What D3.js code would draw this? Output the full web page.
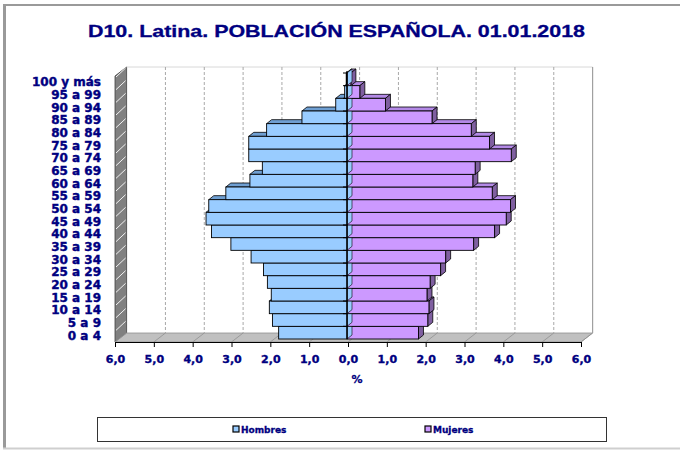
<!DOCTYPE html>
<html><head><meta charset="utf-8">
<script src="https://cdn.jsdelivr.net/npm/d3@7"></script>
<style>body{margin:0;background:#fff}svg{display:block}</style>
</head><body>
<svg id="c" width="680" height="450"></svg>
<script>
const categories = ["0 a 4","5 a 9","10 a 14","15 a 19","20 a 24","25 a 29","30 a 34","35 a 39","40 a 44","45 a 49","50 a 54","55 a 59","60 a 64","65 a 69","70 a 74","75 a 79","80 a 84","85 a 89","90 a 94","95 a 99","100 y más"];
const hombres = [1.76,1.92,2.00,1.95,2.05,2.15,2.47,2.99,3.49,3.63,3.56,3.12,2.50,2.18,2.53,2.53,2.07,1.16,0.29,0.06,0.02];
const mujeres = [1.84,2.08,2.11,2.06,2.14,2.41,2.54,3.26,3.80,4.10,4.21,3.74,3.24,3.30,4.23,3.67,3.20,2.19,0.99,0.33,0.10];
const xTicks = [-6,-5,-4,-3,-2,-1,0,1,2,3,4,5,6];
const seriesNames = ["Hombres","Mujeres"];
const title = "D10. Latina. POBLACIÓN ESPAÑOLA. 01.01.2018";
const xLabel = "%";

const navy = "#000080";
const colH = "#99ccff", colHTop = "#6f9fd2", colHSide = "#99ccff";
const colM = "#cc99ff", colMTop = "#b389e6", colMSide = "#7f5fa0";

const svg = d3.select("#c");
// outer frame
svg.append("line").attr("x1",3).attr("x2",680).attr("y1",5).attr("y2",5).attr("stroke","#9a9a9a").attr("stroke-width",2);
svg.append("line").attr("x1",4.5).attr("x2",4.5).attr("y1",4).attr("y2",449).attr("stroke","#9a9a9a").attr("stroke-width",3);
svg.append("line").attr("x1",3).attr("x2",680).attr("y1",448.5).attr("y2",448.5).attr("stroke","#cfcfcf").attr("stroke-width",2);

svg.append("text").attr("x",88).attr("y",37)
  .attr("font-family","Liberation Sans, Arial, sans-serif").attr("font-weight","bold")
  .attr("font-size",16.5).attr("fill",navy).attr("stroke",navy).attr("stroke-width",0.3)
  .attr("textLength",497).attr("lengthAdjust","spacingAndGlyphs").text(title);

const L = 115, R = 581, T = 76, B = 342;
const DX = 11.6, DY = -9;
const x = d3.scaleLinear().domain([-6,6]).range([L,R]);
const y = d3.scaleBand().domain(categories).range([B,T]).padding(0);

// left wall
const g = svg.append("g");
g.append("polygon").attr("points",[[L,T],[L+DX,T+DY],[L+DX,B+DY],[L,B]].join(" "))
  .attr("fill","#808080").attr("stroke","#404040").attr("stroke-width",0.8);
categories.forEach((c)=>{
  const yy = y(c);
  g.append("line").attr("x1",L+1).attr("y1",yy+1).attr("x2",L+DX-1).attr("y2",yy+DY+1)
    .attr("stroke","#ffffff").attr("stroke-width",0.9);
});
// floor
g.append("polygon").attr("points",[[L,B],[L+DX,B+DY],[R+DX,B+DY],[R,B]].join(" "))
  .attr("fill","#c0c0c0").attr("stroke","#909090").attr("stroke-width",0.8);
xTicks.forEach(t=>{
  g.append("line").attr("x1",x(t)).attr("y1",B).attr("x2",x(t)+DX).attr("y2",B+DY)
    .attr("stroke","#909090").attr("stroke-width",0.8);
});
// back wall edges and gridlines
g.append("line").attr("x1",L+DX).attr("x2",R+DX).attr("y1",T+DY).attr("y2",T+DY).attr("stroke","#d8d8d8");
g.append("line").attr("x1",R+DX).attr("x2",R+DX).attr("y1",T+DY).attr("y2",B+DY).attr("stroke","#a0a0a0").attr("stroke-width",1.2);
xTicks.filter(t=>t>-6 && t<6).forEach(t=>{
  g.append("line").attr("x1",x(t)+DX).attr("x2",x(t)+DX).attr("y1",T+DY).attr("y2",B+DY)
    .attr("stroke","#a8a8a8").attr("stroke-dasharray","3,2").attr("stroke-width",1);
});

// x axis
const ax = svg.append("g").attr("transform",`translate(0,${B})`)
  .call(d3.axisBottom(x).tickValues(xTicks).tickSize(5).tickPadding(8)
    .tickFormat(d=>Math.abs(d).toFixed(1).replace(".",",")));
ax.select(".domain").attr("stroke","#000");
ax.selectAll(".tick line").attr("stroke","#000");
ax.selectAll("text").attr("font-family","DejaVu Sans, sans-serif").attr("font-weight","bold")
  .attr("font-size",11).attr("fill",navy).attr("stroke",navy).attr("stroke-width",0.35);

svg.append("text").attr("x",357).attr("y",383).attr("text-anchor","middle")
  .attr("font-family","DejaVu Sans, sans-serif").attr("font-weight","bold")
  .attr("font-size",11).attr("fill",navy).attr("stroke",navy).attr("stroke-width",0.3).text(xLabel);

// y labels
const ay = svg.append("g").attr("transform",`translate(${L},0)`)
  .call(d3.axisLeft(y).tickSize(0).tickPadding(14));
ay.select(".domain").remove();
ay.selectAll("text").attr("font-family","DejaVu Sans, sans-serif").attr("font-weight","bold")
  .attr("font-size",12).attr("fill",navy).attr("stroke",navy).attr("stroke-width",0.4);

// bars (slightly inside the depth)
const bg = svg.append("g").attr("transform","translate(-1,-3)");
const d = 5, dd = -4;
const x0 = x(0);
const poly = (pts)=>pts.map(p=>p.join(",")).join(" ");
categories.forEach((c,i)=>{
  const yt = y(c), h = y.bandwidth(), yb = yt + h;
  // mujeres
  const xm = x(mujeres[i]);
  bg.append("polygon").attr("points",poly([[x0,yt],[x0+d,yt+dd],[xm+d,yt+dd],[xm,yt]]))
    .attr("fill",colMTop).attr("stroke","#000").attr("stroke-width",0.8);
  bg.append("polygon").attr("points",poly([[xm,yt],[xm+d,yt+dd],[xm+d,yb+dd],[xm,yb]]))
    .attr("fill",colMSide).attr("stroke","#000").attr("stroke-width",0.8);
  bg.append("rect").attr("x",x0).attr("y",yt).attr("width",xm-x0).attr("height",h)
    .attr("fill",colM).attr("stroke","#000").attr("stroke-width",0.9);
  // hombres
  const xh = x(-hombres[i]);
  bg.append("polygon").attr("points",poly([[xh,yt],[xh+d,yt+dd],[x0+d,yt+dd],[x0,yt]]))
    .attr("fill",colHTop).attr("stroke","#000").attr("stroke-width",0.8);
  bg.append("polygon").attr("points",poly([[x0,yt],[x0+d,yt+dd],[x0+d,yb+dd],[x0,yb]]))
    .attr("fill",colHSide).attr("stroke","#000").attr("stroke-width",0.6);
  bg.append("rect").attr("x",xh).attr("y",yt).attr("width",x0-xh).attr("height",h)
    .attr("fill",colH).attr("stroke","#000").attr("stroke-width",0.9);
});
// category axis at zero with ticks on boundaries
bg.append("line").attr("x1",x0).attr("x2",x0).attr("y1",T-2).attr("y2",B)
  .attr("stroke","#000").attr("stroke-width",1.3);
categories.forEach(c=>{
  bg.append("line").attr("x1",x0-4).attr("x2",x0).attr("y1",y(c)).attr("y2",y(c)).attr("stroke","#000");
});

// legend
const lg = svg.append("g");
lg.append("rect").attr("x",97.5).attr("y",417.5).attr("width",509).attr("height",24)
  .attr("fill","#fff").attr("stroke","#333").attr("stroke-width",1);
const legX = [233, 425];
seriesNames.forEach((s,i)=>{
  lg.append("rect").attr("x",legX[i]).attr("y",426).attr("width",6).attr("height",6)
    .attr("fill",i===0?colH:colM).attr("stroke","#000").attr("stroke-width",1.2);
  lg.append("text").attr("x",legX[i]+8).attr("y",432.5)
    .attr("font-family","DejaVu Sans, sans-serif").attr("font-weight","bold")
    .attr("font-size",9).attr("fill",navy).attr("stroke",navy).attr("stroke-width",0.3).text(s);
});
</script>
</body></html>
